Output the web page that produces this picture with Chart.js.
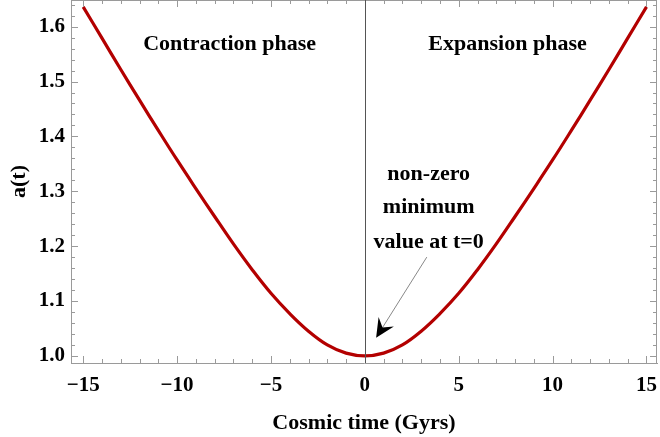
<!DOCTYPE html>
<html>
<head>
<meta charset="utf-8">
<script src="https://cdn.jsdelivr.net/npm/chart.js@4.4.1/dist/chart.umd.min.js"></script>
<style>
  html, body { margin: 0; padding: 0; background: #fff; }
  #wrap { width: 660px; height: 437px; }
</style>
</head>
<body>
<div id="wrap"><canvas id="c" width="660" height="437"></canvas></div>
<script>
// cosmic time (Gyrs) and scale factor
var times = [-15, -14, -13, -12, -11, -10, -9, -8, -7, -6, -5, -4, -3, -2, -1, 0,
             1, 2, 3, 4, 5, 6, 7, 8, 9, 10, 11, 12, 13, 14, 15];
var scaleFactor = [1.636, 1.579, 1.522, 1.466, 1.411, 1.357, 1.305, 1.254, 1.204, 1.157, 1.114, 1.077, 1.045, 1.020, 1.005, 1.000,
                   1.005, 1.020, 1.045, 1.077, 1.114, 1.157, 1.204, 1.254, 1.305, 1.357, 1.411, 1.466, 1.522, 1.579, 1.636];
var xTicks = [-15, -10, -5, 0, 5, 10, 15];
var yTicks = [1.0, 1.1, 1.2, 1.3, 1.4, 1.5, 1.6];
var phaseLabels = ["Contraction phase", "Expansion phase"];
var noteLines = ["non-zero", "minimum", "value at t=0"];

var serif = "'Liberation Serif', 'Times New Roman', serif";
var frameColor = "#9a9a9a";

function fmtX(v) { return v < 0 ? "\u2212" + Math.abs(v) : String(v); }

var frameTicks = {
  id: "frameTicks",
  afterDraw: function (chart) {
    var ctx = chart.ctx, a = chart.chartArea;
    var xs = chart.scales.x, ys = chart.scales.y;
    ctx.save();
    // top and right frame
    ctx.strokeStyle = frameColor;
    ctx.lineWidth = 1;
    ctx.beginPath();
    ctx.moveTo(a.left, a.top + 0.5); ctx.lineTo(a.right, a.top + 0.5);
    ctx.moveTo(a.right - 0.5, a.top); ctx.lineTo(a.right - 0.5, a.bottom);
    ctx.stroke();
    // inward ticks
    ctx.beginPath();
    for (var t = -15; t <= 15; t++) {
      var px = Math.round(xs.getPixelForValue(t)) + 0.5;
      var len = (t % 5 === 0) ? 7 : 4;
      ctx.moveTo(px, a.bottom); ctx.lineTo(px, a.bottom - len);
      ctx.moveTo(px, a.top); ctx.lineTo(px, a.top + len);
    }
    for (var k = 0; k <= 32; k++) {
      var v = 1 + k * 0.02;
      var py = Math.round(ys.getPixelForValue(v)) + 0.5;
      var l2 = (k % 5 === 0) ? 7 : 4;
      ctx.moveTo(a.left, py); ctx.lineTo(a.left + l2, py);
      ctx.moveTo(a.right, py); ctx.lineTo(a.right - l2, py);
    }
    ctx.stroke();
    // vertical line at t = 0
    var x0 = Math.round(xs.getPixelForValue(0)) + 0.5;
    ctx.strokeStyle = "#555";
    ctx.beginPath();
    ctx.moveTo(x0, a.top); ctx.lineTo(x0, a.bottom);
    ctx.stroke();

    // text annotations
    ctx.fillStyle = "#000";
    ctx.textAlign = "center";
    ctx.textBaseline = "middle";
    ctx.font = "bold 22px " + serif;
    ctx.fillText(phaseLabels[0], xs.getPixelForValue(-7.2), ys.getPixelForValue(1.567));
    ctx.fillText(phaseLabels[1], xs.getPixelForValue(7.6), ys.getPixelForValue(1.567));
    var noteY = [1.331, 1.271, 1.207];
    for (var i = 0; i < noteLines.length; i++) {
      ctx.fillText(noteLines[i], xs.getPixelForValue(3.4), ys.getPixelForValue(noteY[i]));
    }

    // arrow
    var tx = xs.getPixelForValue(3.3), ty = ys.getPixelForValue(1.18);
    var hx = xs.getPixelForValue(0.6), hy = ys.getPixelForValue(1.033);
    var dx = hx - tx, dy = hy - ty, d = Math.sqrt(dx * dx + dy * dy);
    var ux = dx / d, uy = dy / d, nx = -uy, ny = ux;
    ctx.strokeStyle = "#888";
    ctx.lineWidth = 1;
    ctx.beginPath();
    ctx.moveTo(tx, ty); ctx.lineTo(hx - ux * 8, hy - uy * 8);
    ctx.stroke();
    ctx.fillStyle = "#000";
    ctx.beginPath();
    ctx.moveTo(hx, hy);
    ctx.lineTo(hx - ux * 19 + nx * 9, hy - uy * 19 + ny * 9);
    ctx.lineTo(hx - ux * 12, hy - uy * 12);
    ctx.lineTo(hx - ux * 19 - nx * 9, hy - uy * 19 - ny * 9);
    ctx.closePath();
    ctx.fill();
    ctx.restore();
  }
};

var points = times.map(function (t, i) { return { x: t, y: scaleFactor[i] }; });

new Chart(document.getElementById("c"), {
  type: "line",
  data: {
    datasets: [{
      data: points,
      borderColor: "#b30000",
      borderWidth: 3.2,
      pointRadius: 0,
      tension: 0.4,
      fill: false
    }]
  },
  options: {
    responsive: false,
    animation: false,
    layout: { padding: { top: 0, right: 3, left: 0, bottom: 0 } },
    plugins: { legend: { display: false }, tooltip: { enabled: false } },
    scales: {
      x: {
        type: "linear",
        min: -15.65,
        max: 15.56,
        afterFit: function (s) { s.height = 74; s.paddingLeft = 0; s.paddingRight = 0; },
        afterBuildTicks: function (s) { s.ticks = xTicks.map(function (v) { return { value: v }; }); },
        grid: { drawOnChartArea: false, drawTicks: false },
        border: { display: true, color: frameColor, width: 1 },
        ticks: {
          padding: 10,
          color: "#000",
          font: { family: serif, size: 21, weight: "bold" },
          callback: function (v) { return fmtX(v); },
          maxRotation: 0
        },
        title: {
          display: true,
          text: "Cosmic time (Gyrs)",
          color: "#000",
          font: { family: serif, size: 22, weight: "bold" },
          padding: { top: 0, bottom: 0 }
        }
      },
      y: {
        min: 0.987,
        max: 1.6486,
        afterFit: function (s) { s.width = 71; s.paddingTop = 0; s.paddingBottom = 0; },
        afterBuildTicks: function (s) { s.ticks = yTicks.map(function (v) { return { value: v }; }); },
        grid: { drawOnChartArea: false, drawTicks: false },
        border: { display: true, color: frameColor, width: 1 },
        ticks: {
          padding: 6,
          color: "#000",
          font: { family: serif, size: 21, weight: "bold" },
          callback: function (v) { return v.toFixed(1); }
        },
        title: {
          display: true,
          text: "a(t)",
          color: "#000",
          font: { family: serif, size: 22, weight: "bold" },
          padding: { top: 6, bottom: 0 }
        }
      }
    }
  },
  plugins: [frameTicks]
});
</script>
</body>
</html>
